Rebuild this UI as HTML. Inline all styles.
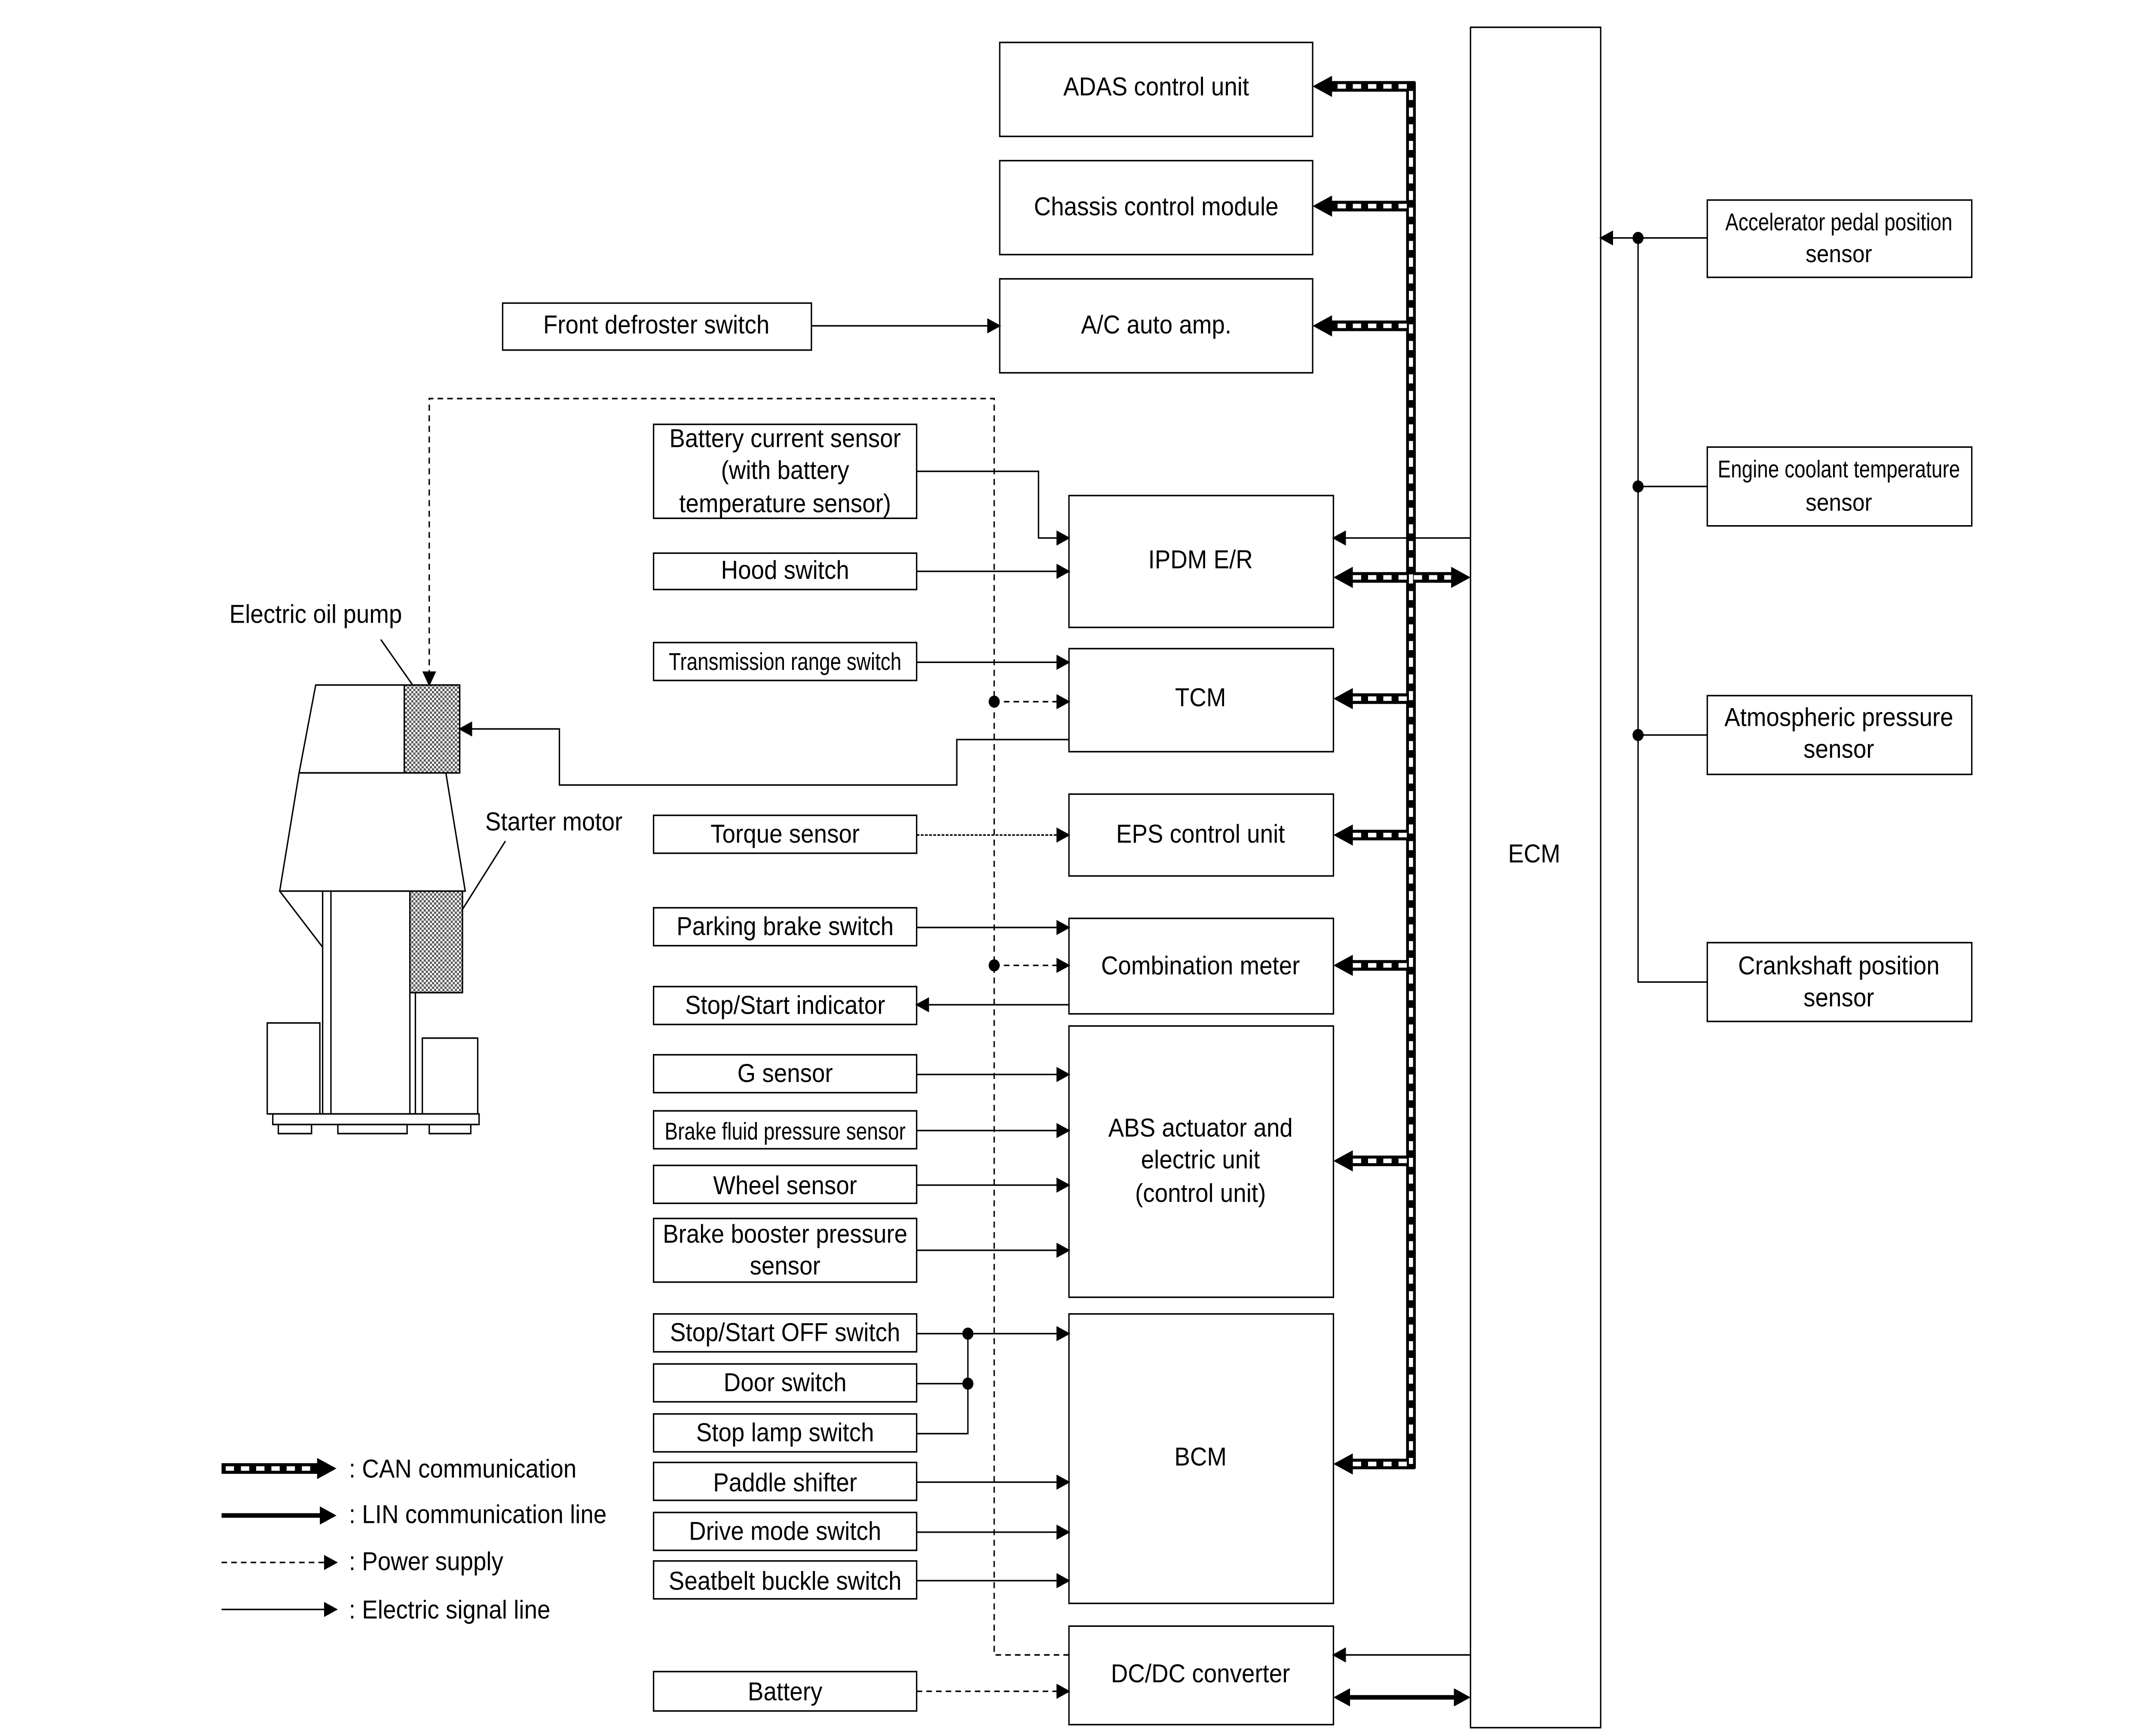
<!DOCTYPE html>
<html><head><meta charset="utf-8"><style>html,body{margin:0;padding:0;background:#fff;overflow:hidden;width:100%;height:100%}svg{display:block;width:100vw;height:100vh}</style></head><body>
<svg xmlns="http://www.w3.org/2000/svg" viewBox="0 0 1552 1145.5" preserveAspectRatio="none" font-family="Liberation Sans, sans-serif" font-size="17">
<defs>
<marker id="a" markerWidth="10" markerHeight="10" refX="9" refY="5" orient="auto" markerUnits="userSpaceOnUse"><path d="M0,0 L10,5 L0,10 z" fill="#000"/></marker>
<pattern id="h" width="3" height="3" patternUnits="userSpaceOnUse"><rect width="3" height="3" fill="#fff"/><rect width="1.5" height="1.5" fill="#555"/><rect x="1.5" y="1.5" width="1.5" height="1.5" fill="#555"/></pattern>
</defs>
<rect width="1552" height="1146" fill="#fff"/>
<g fill="none" stroke="#000" stroke-width="1">
<rect x="722" y="28" width="226" height="62"/>
<rect x="722" y="106" width="226" height="62"/>
<rect x="722" y="184" width="226" height="62"/>
<rect x="363" y="200" width="223" height="31"/>
<rect x="772" y="327" width="191" height="87"/>
<rect x="772" y="428" width="191" height="68"/>
<rect x="772" y="524" width="191" height="54"/>
<rect x="772" y="606" width="191" height="63"/>
<rect x="772" y="677" width="191" height="179"/>
<rect x="772" y="867" width="191" height="191"/>
<rect x="772" y="1073" width="191" height="65"/>
<rect x="1062" y="18" width="94" height="1122"/>
<rect x="1233" y="132" width="191" height="51"/>
<rect x="1233" y="295" width="191" height="52"/>
<rect x="1233" y="459" width="191" height="52"/>
<rect x="1233" y="622" width="191" height="52"/>
<rect x="472" y="280" width="190" height="62"/>
<rect x="472" y="365" width="190" height="24"/>
<rect x="472" y="424" width="190" height="25"/>
<rect x="472" y="538" width="190" height="25"/>
<rect x="472" y="599" width="190" height="25"/>
<rect x="472" y="651" width="190" height="25"/>
<rect x="472" y="696" width="190" height="25"/>
<rect x="472" y="733" width="190" height="25"/>
<rect x="472" y="769" width="190" height="25"/>
<rect x="472" y="804" width="190" height="42"/>
<rect x="472" y="867" width="190" height="25"/>
<rect x="472" y="900" width="190" height="25"/>
<rect x="472" y="933" width="190" height="25"/>
<rect x="472" y="965" width="190" height="25"/>
<rect x="472" y="998" width="190" height="25"/>
<rect x="472" y="1030" width="190" height="25"/>
<rect x="472" y="1103" width="190" height="26"/>
<path d="M586,215 H722" marker-end="url(#a)"/>
<path d="M662,311 H750 V355 H772" marker-end="url(#a)"/>
<path d="M662,377 H772" marker-end="url(#a)"/>
<path d="M662,437 H772" marker-end="url(#a)"/>
<path d="M662,551 H772" stroke-dasharray="2,1" marker-end="url(#a)"/>
<path d="M662,612 H772" marker-end="url(#a)"/>
<path d="M772,663 H662" marker-end="url(#a)"/>
<path d="M662,709 H772" marker-end="url(#a)"/>
<path d="M662,746 H772" marker-end="url(#a)"/>
<path d="M662,782 H772" marker-end="url(#a)"/>
<path d="M662,825 H772" marker-end="url(#a)"/>
<path d="M662,880 H772" marker-end="url(#a)"/>
<path d="M662,913 H699"/>
<path d="M662,946 H699 V880"/>
<path d="M662,978 H772" marker-end="url(#a)"/>
<path d="M662,1011 H772" marker-end="url(#a)"/>
<path d="M662,1043 H772" marker-end="url(#a)"/>
<path d="M1062,355 H963" marker-end="url(#a)"/>
<path d="M1062,1092 H963" marker-end="url(#a)"/>
<path d="M772,488 H691 V518 H404 V481 H332" marker-end="url(#a)"/>
<path d="M1183,157 V648 H1233"/>
<path d="M1183,157 H1233"/>
<path d="M1183,321 H1233"/>
<path d="M1183,485 H1233"/>
<path d="M1183,157 H1156" marker-end="url(#a)"/>
<g stroke-dasharray="4,3">
<path d="M772,1092 H718 V263 H310 V452" marker-end="url(#a)"/>
<path d="M718,463 H772" marker-end="url(#a)"/>
<path d="M718,637 H772" marker-end="url(#a)"/>
<path d="M662,1116 H772" marker-end="url(#a)"/>
<path d="M160,1031 H243" marker-end="url(#a)"/>
</g>
<path d="M160,1062 H243" marker-end="url(#a)"/>
</g>
<g fill="#000">
<circle cx="699" cy="880" r="4"/><circle cx="699" cy="913" r="4"/>
<circle cx="718" cy="463" r="4"/><circle cx="718" cy="637" r="4"/>
<circle cx="1183" cy="157" r="4"/><circle cx="1183" cy="321" r="4"/><circle cx="1183" cy="485" r="4"/>
</g>
<g fill="none">
<g stroke="#000" stroke-width="7">
<path d="M1019,54 V969"/>
<path d="M1022,57 H960"/><path d="M1019,136 H960"/><path d="M1019,215 H960"/>
<path d="M975,381 H1050"/><path d="M1019,461 H975"/><path d="M1019,551 H975"/>
<path d="M1019,637 H975"/><path d="M1019,766 H975"/><path d="M1022,966 H975"/>
<path d="M160,969 H230"/>
</g>
<g stroke="#fff" stroke-width="3" stroke-dasharray="6,5">
<path d="M1019,60 V966"/>
<path d="M1016,57 H962"/><path d="M1016,136 H962"/><path d="M1016,215 H962"/>
<path d="M977,381 H1048"/><path d="M1016,461 H977"/><path d="M1016,551 H977"/>
<path d="M1016,637 H977"/><path d="M1016,766 H977"/><path d="M1016,966 H977"/>
<path d="M163,969 H228"/>
</g>
</g>
<g fill="#000">
<path d="M948,57 l14,-7 v14z"/><path d="M948,136 l14,-7 v14z"/><path d="M948,215 l14,-7 v14z"/>
<path d="M963,381 l14,-7 v14z"/><path d="M1062,381 l-14,-7 v14z"/>
<path d="M963,461 l14,-7 v14z"/><path d="M963,551 l14,-7 v14z"/><path d="M963,637 l14,-7 v14z"/>
<path d="M963,766 l14,-7 v14z"/><path d="M963,966 l14,-7 v14z"/>
<path d="M243,969 l-14,-7 v14z"/>
</g>
<g stroke="#000" stroke-width="3"><path d="M973,1120 H1052"/><path d="M160,1000 H233"/></g>
<g fill="#000"><path d="M963,1120 l12,-6 v12z"/><path d="M1062,1120 l-12,-6 v12z"/><path d="M243,1000 l-12,-6 v12z"/></g>
<g stroke="#000" stroke-width="1" fill="none">
<path d="M228,452 H292 V510 H216 Z"/>
<path d="M216,510 H322 L336,588 H202 Z"/>
<rect x="292" y="452" width="40" height="58" fill="url(#h)"/>
<rect x="233" y="588" width="67" height="147"/>
<path d="M239,588 V735 M296,588 V735"/>
<rect x="296" y="588" width="38" height="67" fill="url(#h)"/>
<path d="M202,588 L233,625"/>
<rect x="193" y="675" width="38" height="60"/>
<rect x="305" y="685" width="40" height="50"/>
<rect x="197" y="735" width="149" height="7"/>
<rect x="201" y="742" width="24" height="6"/><rect x="244" y="742" width="50" height="6"/><rect x="310" y="742" width="30" height="6"/>
<path d="M275,422 L298,452"/>
<path d="M365,555 L334,600"/>
</g>
<g text-anchor="middle" fill="#000">
<text x="835" y="63">ADAS control unit</text>
<text x="835" y="142">Chassis control module</text>
<text x="835" y="220">A/C auto amp.</text>
<text x="474" y="220">Front defroster switch</text>
<text x="867" y="375">IPDM E/R</text>
<text x="867" y="466">TCM</text>
<text x="867" y="556">EPS control unit</text>
<text x="867" y="643">Combination meter</text>
<text x="867" y="750">ABS actuator and</text>
<text x="867" y="771">electric unit</text>
<text x="867" y="793">(control unit)</text>
<text x="867" y="967">BCM</text>
<text x="867" y="1110">DC/DC converter</text>
<text x="1108" y="569">ECM</text>
<text x="567" y="295">Battery current sensor</text>
<text x="567" y="316">(with battery</text>
<text x="567" y="338">temperature sensor)</text>
<text x="567" y="382">Hood switch</text>
<text x="567" y="442" font-size="16" textLength="168" lengthAdjust="spacingAndGlyphs">Transmission range switch</text>
<text x="567" y="556">Torque sensor</text>
<text x="567" y="617">Parking brake switch</text>
<text x="567" y="669">Stop/Start indicator</text>
<text x="567" y="714">G sensor</text>
<text x="567" y="752" font-size="16" textLength="174" lengthAdjust="spacingAndGlyphs">Brake fluid pressure sensor</text>
<text x="567" y="788">Wheel sensor</text>
<text x="567" y="820">Brake booster pressure</text>
<text x="567" y="841">sensor</text>
<text x="567" y="885">Stop/Start OFF switch</text>
<text x="567" y="918">Door switch</text>
<text x="567" y="951">Stop lamp switch</text>
<text x="567" y="984">Paddle shifter</text>
<text x="567" y="1016">Drive mode switch</text>
<text x="567" y="1049">Seatbelt buckle switch</text>
<text x="567" y="1122">Battery</text>
<text x="1328" y="152" font-size="16" textLength="164" lengthAdjust="spacingAndGlyphs">Accelerator pedal position</text>
<text x="1328" y="173" font-size="16">sensor</text>
<text x="1328" y="315" font-size="16" textLength="175" lengthAdjust="spacingAndGlyphs">Engine coolant temperature</text>
<text x="1328" y="337" font-size="16">sensor</text>
<text x="1328" y="479">Atmospheric pressure</text>
<text x="1328" y="500">sensor</text>
<text x="1328" y="643">Crankshaft position</text>
<text x="1328" y="664">sensor</text>
<text x="228" y="411">Electric oil pump</text>
<text x="400" y="548">Starter motor</text>
</g>
<g fill="#000">
<text x="252" y="975">:  CAN communication</text>
<text x="252" y="1005">:  LIN communication line</text>
<text x="252" y="1036">:  Power supply</text>
<text x="252" y="1068">:  Electric signal line</text>
</g>
</svg>
</body></html>
